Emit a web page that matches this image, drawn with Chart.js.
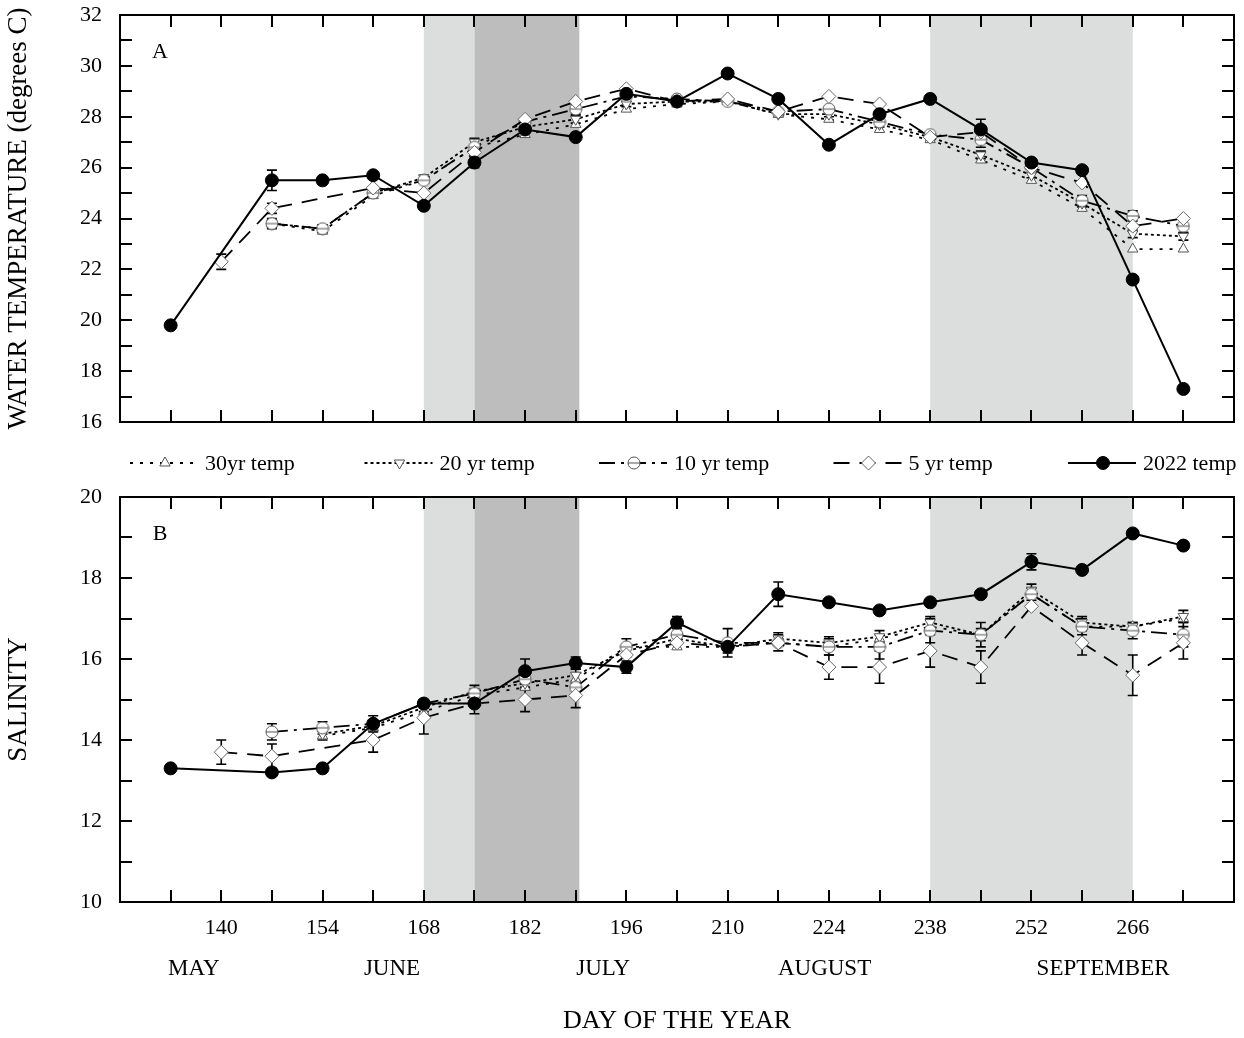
<!DOCTYPE html>
<html>
<head>
<meta charset="utf-8">
<title>Water temperature and salinity</title>
<script src="https://cdn.jsdelivr.net/npm/chart.js"></script>
<style>
    body {
        margin: 0;
        background: #fff;
    }
    #wrap {
        position: relative;
        width: 1244px;
        height: 1038px;
    }
    canvas {
        position: absolute;
        left: 0;
    }
    #tempChart { top: 0; }
    #salChart { top: 478px; }
</style>
</head>
<body>
<div id="wrap">
    <canvas id="tempChart" width="1244" height="478"></canvas>
    <canvas id="salChart" width="1244" height="560"></canvas>
</div>

<script>
    // sampling days (weekly)
    const days = [133, 140, 147, 154, 161, 168, 175, 182, 189, 196, 203, 210, 217, 224, 231, 238, 245, 252, 259, 266, 273];
    const labelDays = [140, 154, 168, 182, 196, 210, 224, 238, 252, 266];

    const monthNames = ['MAY', 'JUNE', 'JULY', 'AUGUST', 'SEPTEMBER'];
    const monthCenters = [136.2, 163.6, 192.8, 223.4, 261.9];

    // shaded periods (day of year)
    const bandFrom = [168, 175, 238];
    const bandTo = [175, 189.5, 266];
    const bandDark = [false, true, false];

    // water temperature (deg C)
    const temp30 = [null, null, 23.8, 23.5, 24.9, 25.5, 26.8, 27.3, 27.7, 28.3, 28.5, 28.6, 28.1, 27.9, 27.5, 27.1, 26.3, 25.5, 24.4, 22.8, 22.8];
    const temp20 = [null, null, 23.8, 23.6, 25.0, 25.6, 27.0, 27.6, 27.9, 28.5, 28.6, 28.6, 28.1, 28.1, 27.7, 27.2, 26.5, 25.7, 24.6, 23.4, 23.3];
    const temp10 = [null, null, 23.8, 23.6, 25.0, 25.5, 26.8, 27.8, 28.3, 28.8, 28.7, 28.6, 28.2, 28.3, 27.8, 27.3, 27.1, 26.0, 24.7, 24.1, 23.7];
    const temp5 = [null, 22.3, 24.4, null, 25.2, 25.0, 26.6, 27.9, 28.6, 29.1, 28.6, 28.7, 28.2, 28.8, 28.5, 27.2, 27.4, 26.0, 25.4, 23.7, 24.0];
    const temp2022 = [19.8, null, 25.5, 25.5, 25.7, 24.5, 26.2, 27.5, 27.2, 28.9, 28.6, 29.7, 28.7, 26.9, 28.1, 28.7, 27.5, 26.2, 25.9, 21.6, 17.3];

    const tempErr2022 = [0, 0, 0.4, 0, 0, 0, 0.2, 0, 0, 0.15, 0, 0.1, 0, 0, 0, 0, 0.4, 0, 0, 0, 0];
    const tempErr5 = [0, 0.3, 0.2, 0, 0, 0, 0, 0, 0, 0, 0, 0, 0, 0, 0, 0, 0, 0, 0, 0, 0];
    const tempErr10 = [0, 0, 0.2, 0.15, 0, 0, 0, 0, 0.2, 0, 0, 0, 0, 0, 0, 0, 0.3, 0, 0.2, 0.2, 0.25];
    const tempErr20 = [0, 0, 0.15, 0.15, 0.1, 0.1, 0.15, 0.15, 0.15, 0.1, 0.1, 0.1, 0.1, 0.1, 0.1, 0.1, 0.15, 0.1, 0.15, 0.15, 0.15];

    // salinity
    const sal30 = [null, null, null, 14.1, 14.3, 14.7, 15.1, 15.3, 15.5, 16.3, 16.3, 16.3, 16.4, 16.3, 16.5, 16.8, 16.6, 17.6, 16.8, 16.8, 17.0];
    const sal20 = [null, null, null, 14.15, 14.35, 14.8, 15.2, 15.4, 15.6, 16.2, 16.5, 16.3, 16.5, 16.4, 16.55, 16.9, 16.6, 17.7, 16.9, 16.8, 17.05];
    const sal10 = [null, null, 14.2, 14.3, 14.4, 14.9, 15.15, 15.5, 15.3, 16.3, 16.6, 16.4, 16.4, 16.3, 16.3, 16.7, 16.6, 17.6, 16.8, 16.7, 16.6];
    const sal5 = [null, 13.7, 13.6, null, 14.0, 14.55, 14.9, 15.0, 15.1, 16.1, 16.4, 16.3, 16.4, 15.8, 15.8, 16.2, 15.8, 17.3, 16.4, 15.6, 16.4];
    const sal2022 = [13.3, null, 13.2, 13.3, 14.4, 14.9, 14.9, 15.7, 15.9, 15.8, 16.9, 16.3, 17.6, 17.4, 17.2, 17.4, 17.6, 18.4, 18.2, 19.1, 18.8];

    const salErr2022 = [0, 0, 0, 0, 0, 0.1, 0.25, 0.3, 0.15, 0.15, 0.15, 0, 0.3, 0, 0, 0, 0, 0.2, 0, 0, 0];
    const salErr5 = [0, 0.3, 0.3, 0, 0.3, 0.4, 0, 0.3, 0.3, 0.2, 0, 0, 0, 0.3, 0.4, 0.4, 0.4, 0, 0.3, 0.5, 0.4];
    const salErr10 = [0, 0, 0.2, 0.15, 0.2, 0.1, 0, 0, 0, 0.2, 0, 0.35, 0.2, 0.2, 0.3, 0.3, 0.3, 0.15, 0.2, 0.2, 0.3];
    const salErr20 = [0, 0, 0, 0.15, 0.1, 0.1, 0.15, 0.15, 0.15, 0.15, 0.1, 0.15, 0.15, 0.15, 0.15, 0.15, 0.15, 0.15, 0.15, 0.1, 0.15];

    const serif = "'Liberation Serif', 'Times New Roman', serif";

    // circle with a bar through it, used for the 10 yr series
    function circleBar() {
        const c = document.createElement('canvas');
        c.width = 14;
        c.height = 14;
        const g = c.getContext('2d');
        g.fillStyle = '#fff';
        g.strokeStyle = '#555';
        g.lineWidth = 1;
        g.beginPath();
        g.arc(7, 7, 6, 0, Math.PI * 2);
        g.fill();
        g.stroke();
        g.beginPath();
        g.moveTo(1, 7);
        g.lineTo(13, 7);
        g.stroke();
        return c;
    }

    const styles = {
        y30: { label: '30yr temp', borderColor: '#000', borderWidth: 1.8, borderDash: [3, 7], pointStyle: 'triangle', pointRotation: 0, pointRadius: 6, pointBackgroundColor: '#fff', pointBorderColor: '#555', pointBorderWidth: 1 },
        y20: { label: '20 yr temp', borderColor: '#000', borderWidth: 1.8, borderDash: [3, 3], pointStyle: 'triangle', pointRotation: 180, pointRadius: 6, pointBackgroundColor: '#fff', pointBorderColor: '#555', pointBorderWidth: 1 },
        y10: { label: '10 yr temp', borderColor: '#000', borderWidth: 1.8, borderDash: [16, 6, 3, 6], pointStyle: circleBar(), pointRotation: 0, pointRadius: 6, pointBackgroundColor: '#fff', pointBorderColor: '#555', pointBorderWidth: 1 },
        y5: { label: '5 yr temp', borderColor: '#000', borderWidth: 1.8, borderDash: [16, 10], pointStyle: 'rectRot', pointRotation: 0, pointRadius: 7, pointBackgroundColor: '#fff', pointBorderColor: '#666', pointBorderWidth: 1 },
        y2022: { label: '2022 temp', borderColor: '#000', borderWidth: 2, borderDash: [], pointStyle: 'circle', pointRotation: 0, pointRadius: 6.5, pointBackgroundColor: '#000', pointBorderColor: '#000', pointBorderWidth: 1 }
    };

    function series(vals, style, errs) {
        return Object.assign({
            data: days.map((d, i) => ({ x: d, y: vals[i] })),
            errors: errs || [],
            spanGaps: true,
            tension: 0,
            fill: false
        }, style);
    }

    // gray bands behind the data
    const bandPlugin = {
        id: 'bands',
        beforeDatasetsDraw(chart) {
            const { ctx, chartArea: a, scales: { x } } = chart;
            ctx.save();
            bandFrom.forEach((from, i) => {
                const x0 = x.getPixelForValue(from);
                const x1 = x.getPixelForValue(bandTo[i]);
                ctx.fillStyle = bandDark[i] ? '#bdbdbd' : '#dcdddd';
                ctx.fillRect(x0, a.top, x1 - x0, a.bottom - a.top);
            });
            ctx.restore();
        }
    };

    // error bars (value +/- err) for each dataset
    const errorPlugin = {
        id: 'errorBars',
        beforeDatasetsDraw(chart) {
            const { ctx, scales: { x, y } } = chart;
            ctx.save();
            ctx.strokeStyle = '#000';
            ctx.lineWidth = 1.6;
            ctx.setLineDash([]);
            chart.data.datasets.forEach(ds => {
                ds.data.forEach((p, i) => {
                    const e = ds.errors[i];
                    if (p.y === null || !e) return;
                    const px = x.getPixelForValue(p.x);
                    const top = y.getPixelForValue(p.y + e);
                    const bot = y.getPixelForValue(p.y - e);
                    ctx.beginPath();
                    ctx.moveTo(px, top); ctx.lineTo(px, bot);
                    ctx.moveTo(px - 5, top); ctx.lineTo(px + 5, top);
                    ctx.moveTo(px - 5, bot); ctx.lineTo(px + 5, bot);
                    ctx.stroke();
                });
            });
            ctx.restore();
        }
    };

    // box with inward ticks on all four sides, plus the panel letter
    const framePlugin = {
        id: 'frame',
        afterDraw(chart, args, opts) {
            const { ctx, chartArea: a, scales: { x, y } } = chart;
            const len = 12;
            ctx.save();
            ctx.strokeStyle = '#000';
            ctx.lineWidth = 2;
            ctx.setLineDash([]);
            ctx.beginPath();
            x.ticks.forEach(t => {
                const px = Math.round(x.getPixelForValue(t.value));
                ctx.moveTo(px, a.top); ctx.lineTo(px, a.top + len);
                ctx.moveTo(px, a.bottom); ctx.lineTo(px, a.bottom - len);
            });
            y.ticks.forEach(t => {
                const py = Math.round(y.getPixelForValue(t.value));
                ctx.moveTo(a.left, py); ctx.lineTo(a.left + len, py);
                ctx.moveTo(a.right, py); ctx.lineTo(a.right - len, py);
            });
            ctx.stroke();
            ctx.strokeRect(a.left, a.top, a.right - a.left, a.bottom - a.top);

            ctx.fillStyle = '#000';
            ctx.font = '22px ' + serif;
            ctx.textAlign = 'center';
            ctx.textBaseline = 'middle';
            ctx.fillText(opts.text, a.left + 40, a.top + 37);

            if (opts.months) {
                ctx.font = '23px ' + serif;
                monthNames.forEach((m, i) => {
                    ctx.fillText(m, x.getPixelForValue(monthCenters[i]), a.bottom + 67);
                });
            }
            ctx.restore();
        }
    };

    function drawMarker(ctx, s, cx, cy) {
        const r = s.pointRadius;
        if (s.pointStyle instanceof HTMLCanvasElement) {
            ctx.drawImage(s.pointStyle, cx - s.pointStyle.width / 2, cy - s.pointStyle.height / 2);
            return;
        }
        ctx.fillStyle = s.pointBackgroundColor;
        ctx.strokeStyle = s.pointBorderColor;
        ctx.lineWidth = s.pointBorderWidth;
        ctx.setLineDash([]);
        ctx.beginPath();
        if (s.pointStyle === 'circle') {
            ctx.arc(cx, cy, r, 0, Math.PI * 2);
        } else if (s.pointStyle === 'triangle') {
            let rad = s.pointRotation * Math.PI / 180;
            ctx.moveTo(cx + Math.sin(rad) * r, cy - Math.cos(rad) * r);
            rad += Math.PI * 2 / 3;
            ctx.lineTo(cx + Math.sin(rad) * r, cy - Math.cos(rad) * r);
            rad += Math.PI * 2 / 3;
            ctx.lineTo(cx + Math.sin(rad) * r, cy - Math.cos(rad) * r);
        } else {
            ctx.moveTo(cx, cy - r);
            ctx.lineTo(cx + r, cy);
            ctx.lineTo(cx, cy + r);
            ctx.lineTo(cx - r, cy);
        }
        ctx.closePath();
        ctx.fill();
        ctx.stroke();
    }

    // legend row between the panels
    const legendOrder = ['y30', 'y20', 'y10', 'y5', 'y2022'];
    const legendPlugin = {
        id: 'rowLegend',
        afterDraw(chart) {
            const ctx = chart.ctx;
            const ly = 463;
            ctx.save();
            legendOrder.forEach((key, i) => {
                const s = styles[key];
                const x0 = 130 + i * 234.5;
                ctx.strokeStyle = s.borderColor;
                ctx.lineWidth = s.borderWidth;
                ctx.setLineDash(s.borderDash);
                ctx.beginPath();
                ctx.moveTo(x0, ly);
                ctx.lineTo(x0 + 68, ly);
                ctx.stroke();
                drawMarker(ctx, s, x0 + 35, ly);
                ctx.fillStyle = '#000';
                ctx.font = '22px ' + serif;
                ctx.textAlign = 'left';
                ctx.textBaseline = 'middle';
                ctx.fillText(s.label, x0 + 75, ly + 1);
            });
            ctx.restore();
        }
    };

    function makeOptions(cfg) {
        return {
            responsive: false,
            animation: false,
            events: [],
            layout: { padding: { left: 0, right: 10, top: cfg.padTop, bottom: 0 } },
            plugins: {
                legend: { display: false },
                tooltip: { enabled: false },
                frame: { text: cfg.tag, months: cfg.months }
            },
            scales: {
                x: {
                    type: 'linear',
                    min: 126,
                    max: 280,
                    grid: { display: false, drawTicks: false },
                    border: { display: false },
                    afterBuildTicks: s => { s.ticks = days.map(v => ({ value: v })); },
                    afterFit: s => {
                        s.height = cfg.xHeight;
                        s.paddingLeft = 0;
                        s.paddingRight = 0;
                    },
                    ticks: {
                        display: cfg.showX,
                        autoSkip: false,
                        maxRotation: 0,
                        padding: 13,
                        color: '#000',
                        font: { family: serif, size: 22 },
                        callback: v => labelDays.includes(v) ? String(v) : ''
                    },
                    title: {
                        display: !!cfg.xTitle,
                        text: cfg.xTitle || '',
                        color: '#000',
                        font: { family: serif, size: 26, lineHeight: 1.2 },
                        padding: { top: 0, bottom: 1 }
                    }
                },
                y: {
                    min: cfg.yMin,
                    max: cfg.yMax,
                    grid: { display: false, drawTicks: false },
                    border: { display: false },
                    afterFit: s => {
                        s.width = 120;
                        s.paddingTop = 0;
                        s.paddingBottom = 0;
                    },
                    ticks: {
                        stepSize: 1,
                        autoSkip: false,
                        padding: 18,
                        color: '#000',
                        font: { family: serif, size: 22 },
                        callback: v => v % 2 === 0 ? String(v) : ''
                    },
                    title: {
                        display: true,
                        text: cfg.yTitle,
                        color: '#000',
                        font: { family: serif, size: 27, lineHeight: 1.2 },
                        padding: { top: 3, bottom: 0 }
                    }
                }
            }
        };
    }

    new Chart(document.getElementById('tempChart'), {
        type: 'line',
        data: {
            datasets: [
                series(temp2022, styles.y2022, tempErr2022),
                series(temp5, styles.y5, tempErr5),
                series(temp10, styles.y10, tempErr10),
                series(temp20, styles.y20, tempErr20),
                series(temp30, styles.y30)
            ]
        },
        options: makeOptions({
            padTop: 15, xHeight: 56, showX: false, tag: 'A', months: false,
            yMin: 16, yMax: 32, yTitle: 'WATER TEMPERATURE (degrees C)'
        }),
        plugins: [bandPlugin, errorPlugin, framePlugin, legendPlugin]
    });

    new Chart(document.getElementById('salChart'), {
        type: 'line',
        data: {
            datasets: [
                series(sal2022, styles.y2022, salErr2022),
                series(sal5, styles.y5, salErr5),
                series(sal10, styles.y10, salErr10),
                series(sal20, styles.y20, salErr20),
                series(sal30, styles.y30)
            ]
        },
        options: makeOptions({
            padTop: 19, xHeight: 136, showX: true, tag: 'B', months: true,
            yMin: 10, yMax: 20, yTitle: 'SALINITY', xTitle: 'DAY OF THE YEAR'
        }),
        plugins: [bandPlugin, errorPlugin, framePlugin]
    });
</script>
</body>
</html>
